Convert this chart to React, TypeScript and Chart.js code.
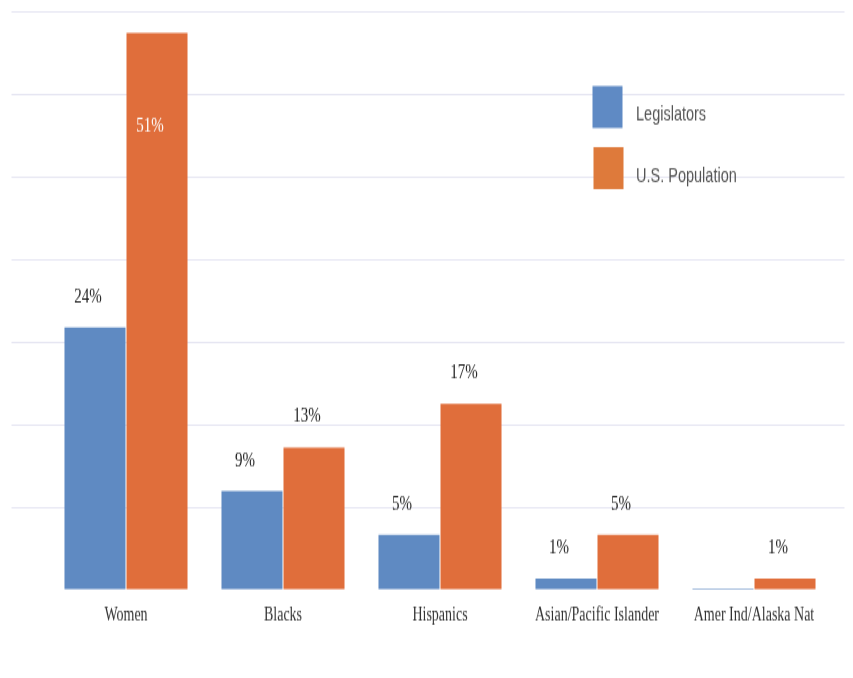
import React, { useEffect, useRef } from "react";
import { Chart, registerables } from "chart.js";

Chart.register(...registerables);

// ---- data ----
const categories = [
  "Women",
  "Blacks",
  "Hispanics",
  "Asian/Pacific Islander",
  "Amer Ind/Alaska Nat",
];
const seriesNames = ["Legislators", "U.S. Population"];
const legislators = [24, 9, 5, 1, 0.1];
const population = [51, 13, 17, 5, 1];
const legislatorLabels = ["24%", "9%", "5%", "1%", ""];
const populationLabels = ["51%", "13%", "17%", "5%", "1%"];
const yMax = 53;

// ---- styles ----
const BLUE = "#5f8ac2";
const ORANGE = "#e06e3b";
const LEGEND_COLORS = ["#5f8ac4", "#de7a3b"];
const GRID = "#e5e5f2";

// internal canvas size (drawn slightly compressed, then stretched vertically)
const W = 853;
const H = 484;

const gridPlugin = {
  id: "customGrid",
  beforeDatasetsDraw(chart: any) {
    const { ctx, chartArea, scales } = chart;
    const y = scales.y;
    ctx.save();
    ctx.strokeStyle = GRID;
    ctx.lineWidth = 1;
    y.ticks.forEach((t: any) => {
      if (t.value <= 0) return;
      const py = Math.round(y.getPixelForValue(t.value)) + 0.5;
      ctx.beginPath();
      ctx.moveTo(chartArea.left - 36, py);
      ctx.lineTo(chartArea.right + 12, py);
      ctx.stroke();
    });
    ctx.restore();
  },
};

const labelPlugin = {
  id: "valueLabels",
  afterDatasetsDraw(chart: any) {
    const { ctx, chartArea } = chart;
    ctx.save();
    ctx.font = '15px "Liberation Serif", "Times New Roman", serif';
    ctx.textAlign = "center";
    ctx.textBaseline = "middle";
    chart.data.datasets.forEach((ds: any, i: number) => {
      const meta = chart.getDatasetMeta(i);
      meta.data.forEach((el: any, j: number) => {
        const text = ds.valueLabels[j];
        if (!text) return;
        let y = el.y - 22;
        let color = "#1a1a1a";
        if (y - 8 < chartArea.top) {
          y = el.y + 67;
          color = "#ffffff";
        }
        ctx.fillStyle = color;
        ctx.fillText(text, el.x - 7, y);
      });
    });
    ctx.restore();
  },
};

const legendPlugin = {
  id: "customLegend",
  afterDraw(chart: any) {
    const { ctx, chartArea } = chart;
    const x0 = chartArea.right - 240;
    const y0 = chartArea.top + 53.5;
    ctx.save();
    ctx.font = '14.5px "Liberation Sans", Arial, sans-serif';
    ctx.textAlign = "left";
    ctx.textBaseline = "middle";
    chart.data.datasets.forEach((ds: any, i: number) => {
      const by = y0 + i * 43.6;
      ctx.fillStyle = LEGEND_COLORS[i];
      ctx.fillRect(x0 + i, by, 30, 30);
      ctx.fillStyle = "#555555";
      ctx.fillText(ds.label, x0 + 43.5, by + 15 + 5.5);
    });
    ctx.restore();
  },
};

export default function App() {
  const canvasRef = useRef<HTMLCanvasElement | null>(null);

  useEffect(() => {
    if (!canvasRef.current) return;
    const chart = new Chart(canvasRef.current, {
      type: "bar",
      data: {
        labels: categories,
        datasets: [
          {
            label: seriesNames[0],
            data: legislators,
            backgroundColor: BLUE,
            borderWidth: 0,
            barPercentage: 0.984,
            categoryPercentage: 0.79,
            valueLabels: legislatorLabels,
          } as any,
          {
            label: seriesNames[1],
            data: population,
            backgroundColor: ORANGE,
            borderWidth: 0,
            barPercentage: 0.984,
            categoryPercentage: 0.79,
            valueLabels: populationLabels,
          } as any,
        ],
      },
      options: {
        responsive: false,
        animation: false,
        devicePixelRatio: 1,
        events: [],
        layout: {
          padding: { left: 47.5, right: 20.5, top: 7.9, bottom: 26.5 },
        },
        plugins: {
          legend: { display: false },
          tooltip: { enabled: false },
          title: { display: false },
        },
        scales: {
          x: {
            grid: { display: false, drawTicks: false },
            border: { display: false },
            ticks: {
              padding: 10,
              color: "#333333",
              maxRotation: 0,
              autoSkip: false,
              font: { family: '"Liberation Serif", "Times New Roman", serif', size: 14 },
            },
          },
          y: {
            display: false,
            min: 0,
            max: yMax,
            ticks: { count: 8 },
            grid: { display: false },
          },
        },
      },
      plugins: [gridPlugin, labelPlugin, legendPlugin],
    });
    return () => chart.destroy();
  }, []);

  return (
    <div
      style={{
        position: "fixed",
        left: 0,
        top: 0,
        width: "853px",
        height: "678px",
        background: "#ffffff",
        overflow: "hidden",
      }}
    >
      <canvas
        ref={canvasRef}
        width={W}
        height={H}
        style={{ width: "853px", height: "678px", display: "block" }}
      />
    </div>
  );
}
